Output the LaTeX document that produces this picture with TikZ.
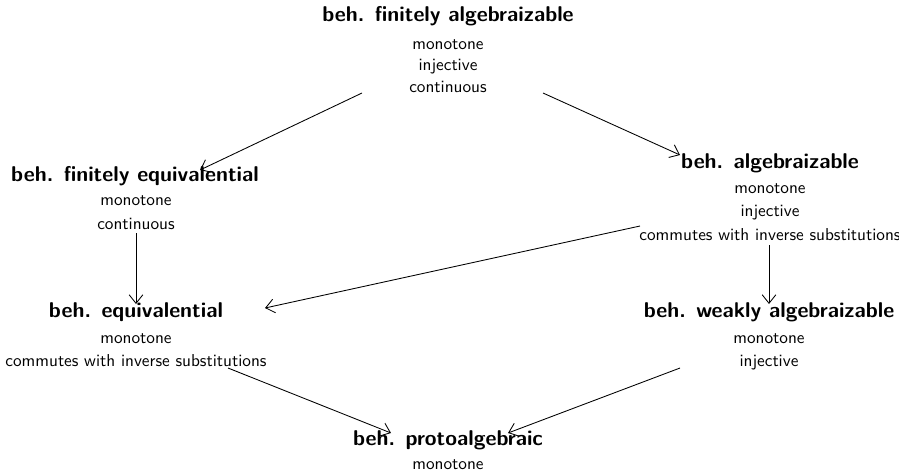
\documentclass[tikz,border=0pt]{standalone}
\usetikzlibrary{arrows.meta}
\begin{document}
\begin{tikzpicture}[x=0.58pt,y=-0.58pt,
  ttl/.style={font=\sffamily\bfseries\fontsize{12.4}{15}\selectfont, inner sep=0pt, anchor=center, text height=1.6ex, text depth=0.45ex},
  sub/.style={font=\sffamily, inner sep=0pt, anchor=center, text height=1.6ex, text depth=0.45ex},
  arr/.style={line width=0.5pt, -{Straight Barb[length=5pt,width=8pt]}}]
\useasboundingbox (0,0) rectangle (899,473);
% top
\node[ttl] (fa) at (448,17) {beh. finitely algebraizable};
\node[sub] (fa1) at (448,45) {monotone};
\node[sub] (fa2) at (448,66) {injective};
\node[sub] (fa3) at (448,88) {continuous};
% finitely equivalential
\node[ttl] (fe) at (135,177) {beh. finitely equivalential};
\node[sub] (fe1) at (136,201) {monotone};
\node[sub] (fe2) at (136,225) {continuous};
% algebraizable
\node[ttl] (al) at (770,164) {beh. algebraizable};
\node[sub] (al1) at (770,189) {monotone};
\node[sub] (al2) at (770,212) {injective};
\node[sub] (al3) at (770,236) {commutes with inverse substitutions};
% equivalential
\node[ttl] (eq) at (136,313) {beh. equivalential};
\node[sub] (eq1) at (136,339) {monotone};
\node[sub] (eq2) at (136,362) {commutes with inverse substitutions};
% weakly algebraizable
\node[ttl] (wa) at (769,313) {beh. weakly algebraizable};
\node[sub] (wa1) at (769,339) {monotone};
\node[sub] (wa2) at (769,362) {injective};
% protoalgebraic
\node[ttl] (pa) at (448,441) {beh. protoalgebraic};
\node[sub] (pa1) at (448,465) {monotone};
% connector end points
\coordinate (c1s) at (362,93);  \coordinate (c1e) at (200,170);
\coordinate (c2s) at (543,93);  \coordinate (c2e) at (680,155);
\coordinate (c3s) at (136,233); \coordinate (c3e) at (136,304);
\coordinate (c4s) at (640,226); \coordinate (c4e) at (265,308);
\coordinate (c5s) at (769,245); \coordinate (c5e) at (769,304);
\coordinate (c6s) at (228,368); \coordinate (c6e) at (391,433);
\coordinate (c7s) at (680,368); \coordinate (c7e) at (508,433);
\draw[arr] (c1s) -- (c1e);
\draw[arr] (c2s) -- (c2e);
\draw[arr] (c3s) -- (c3e);
\draw[arr] (c4s) -- (c4e);
\draw[arr] (c5s) -- (c5e);
\draw[arr] (c6s) -- (c6e);
\draw[arr] (c7s) -- (c7e);
\end{tikzpicture}
\end{document}
